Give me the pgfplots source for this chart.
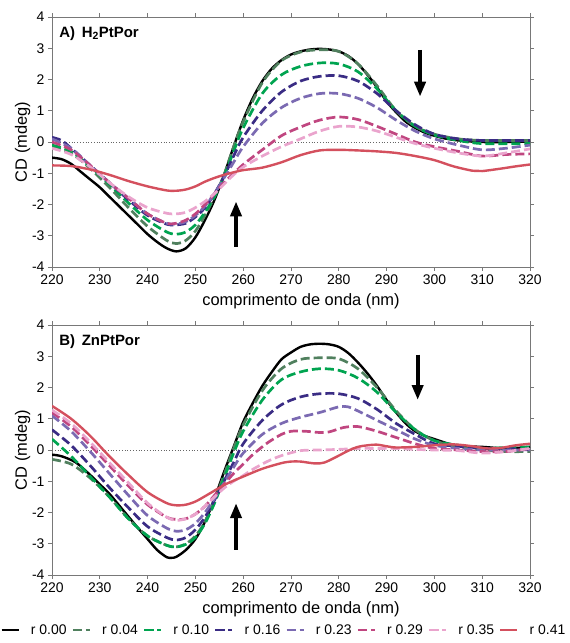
\documentclass[border=0pt]{standalone}
\usepackage{pgfplots}
\pgfplotsset{compat=1.18}
\usepackage{fontspec}
\setmainfont{Liberation Sans}
\usetikzlibrary{arrows.meta}

\definecolor{cGray}{RGB}{80,128,94}
\definecolor{cGreen}{RGB}{0,164,80}
\definecolor{cIndigo}{RGB}{58,44,132}
\definecolor{cPurple}{RGB}{123,106,178}
\definecolor{cMagenta}{RGB}{192,70,128}
\definecolor{cPink}{RGB}{234,164,205}
\definecolor{cRed}{RGB}{212,80,94}
\definecolor{axgray}{RGB}{120,120,120}

\pgfplotsset{
  cdaxis/.style={
    scale only axis, width=478bp, height=250bp,
    xmin=220, xmax=320, ymin=-4, ymax=4,
    xtick={220,230,...,320}, ytick={-4,-3,...,4},
    axis line style={draw=axgray, line width=0.9bp},
    tick style={draw=axgray, line width=0.9bp},
    major tick length=4bp,
    tick align=outside,
    tick label style={font=\fontsize{14}{16}\selectfont},
    label style={font=\fontsize{16.5}{18}\selectfont},
    /pgf/number format/assume math mode=true,
    xlabel={comprimento de onda (nm)},
    ylabel={CD (mdeg)},
    xlabel style={yshift=-2bp, xshift=10bp},
    ylabel style={yshift=-5bp},
    every axis plot/.append style={line width=2.7bp, smooth},
  },
  dsh/.style={dash pattern=on 9bp off 4bp},
  s00/.style={black, solid, line width=2.4bp},
  s04/.style={cGray, dsh},
  s10/.style={cGreen, dsh},
  s16/.style={cIndigo, dsh},
  s23/.style={cPurple, dsh},
  s29/.style={cMagenta, dsh},
  s35/.style={cPink, dsh},
  s41/.style={cRed, solid, line width=2.4bp},
}

\begin{document}
\begin{tikzpicture}
\path[use as bounding box] (0,0) rectangle (570bp,-643bp);

% ---------------- A) H2PtPor
\begin{axis}[cdaxis, at={(52bp,-17bp)}, anchor=north west]
\draw[black!60, dotted, line width=0.8bp] (axis cs:220,0) -- (axis cs:320,0);
\addplot[s00] coordinates {(220,-0.50)(222,-0.55)(224,-0.7)(226,-0.95)(228,-1.2)(230,-1.45)(232,-1.75)(234,-2.05)(236,-2.35)(238,-2.65)(240,-2.95)(242,-3.2)(244,-3.4)(246,-3.5)(248,-3.4)(250,-3.05)(252,-2.5)(254,-1.85)(256,-1.05)(258,-0.15)(260,0.7)(262,1.4)(264,1.95)(266,2.35)(268,2.62)(270,2.8)(272,2.9)(274,2.96)(276,2.98)(278,2.96)(280,2.9)(282,2.75)(284,2.5)(286,2.15)(288,1.75)(290,1.3)(292,0.95)(294,0.65)(296,0.45)(298,0.3)(300,0.2)(302,0.12)(305,0.05)(310,0.0)(315,0.0)(320,0.02)};
\addplot[s04] coordinates {(220,-0.15)(224,-0.35)(228,-0.85)(232,-1.45)(236,-2.1)(240,-2.7)(244,-3.15)(246,-3.25)(248,-3.15)(250,-2.85)(252,-2.35)(254,-1.75)(256,-1.05)(258,-0.15)(260,0.65)(264,1.9)(268,2.6)(272,2.88)(276,2.95)(280,2.9)(284,2.5)(288,1.8)(292,1.0)(296,0.5)(300,0.25)(305,0.1)(310,0.05)(320,0.05)};
\addplot[s10] coordinates {(220,-0.1)(224,-0.3)(228,-0.8)(232,-1.35)(236,-1.95)(240,-2.5)(244,-2.88)(246,-2.95)(248,-2.88)(250,-2.65)(252,-2.25)(254,-1.75)(256,-1.1)(258,-0.3)(260,0.45)(264,1.55)(268,2.15)(272,2.42)(276,2.53)(280,2.5)(284,2.25)(288,1.7)(292,1.0)(296,0.5)(300,0.22)(305,0.05)(310,-0.05)(320,-0.05)};
\addplot[s16] coordinates {(220,0.15)(222,0.05)(224,-0.2)(228,-0.75)(232,-1.3)(236,-1.85)(240,-2.35)(244,-2.63)(246,-2.65)(248,-2.6)(250,-2.4)(252,-2.1)(254,-1.65)(256,-1.1)(258,-0.45)(260,0.15)(264,1.0)(268,1.6)(272,1.95)(276,2.1)(280,2.12)(284,1.95)(288,1.55)(292,1.0)(296,0.55)(300,0.25)(305,0.1)(310,0.05)(320,0.05)};
\addplot[s23] coordinates {(220,0.1)(224,-0.2)(228,-0.75)(232,-1.3)(236,-1.8)(240,-2.3)(244,-2.6)(246,-2.62)(248,-2.55)(250,-2.35)(252,-2.05)(254,-1.65)(256,-1.15)(258,-0.65)(260,-0.15)(264,0.6)(268,1.1)(272,1.4)(276,1.55)(280,1.55)(284,1.4)(288,1.1)(292,0.7)(296,0.35)(300,0.1)(305,-0.1)(310,-0.25)(315,-0.2)(320,-0.1)};
\addplot[s29] coordinates {(220,0.0)(224,-0.25)(228,-0.75)(232,-1.3)(236,-1.8)(240,-2.3)(244,-2.6)(246,-2.6)(248,-2.5)(250,-2.3)(252,-2.0)(254,-1.65)(256,-1.3)(258,-1.0)(260,-0.72)(262,-0.48)(264,-0.25)(268,0.2)(272,0.48)(276,0.7)(280,0.8)(284,0.72)(288,0.5)(292,0.25)(296,0.0)(300,-0.15)(305,-0.3)(310,-0.45)(315,-0.4)(320,-0.38)};
\addplot[s35] coordinates {(220,-0.2)(224,-0.4)(228,-0.8)(232,-1.3)(236,-1.75)(240,-2.1)(244,-2.28)(246,-2.3)(248,-2.25)(250,-2.1)(252,-1.9)(254,-1.65)(256,-1.35)(258,-1.05)(260,-0.8)(264,-0.45)(268,-0.15)(272,0.1)(276,0.35)(280,0.5)(284,0.48)(288,0.35)(292,0.15)(296,-0.05)(300,-0.2)(305,-0.35)(310,-0.45)(315,-0.35)(320,-0.22)};
\addplot[s41] coordinates {(220,-0.75)(224,-0.77)(228,-0.88)(232,-1.05)(236,-1.25)(240,-1.42)(244,-1.55)(246,-1.56)(248,-1.52)(250,-1.42)(252,-1.27)(254,-1.15)(256,-1.05)(258,-0.97)(260,-0.9)(264,-0.82)(268,-0.65)(272,-0.42)(276,-0.27)(280,-0.25)(284,-0.27)(288,-0.3)(292,-0.35)(296,-0.45)(300,-0.58)(304,-0.78)(308,-0.92)(310,-0.93)(314,-0.85)(317,-0.78)(320,-0.72)};
\draw[black, line width=4bp, -{Triangle[width=11bp,length=15bp]}] (axis cs:297,2.95) -- (axis cs:297,1.45);
\draw[black, line width=4bp, -{Triangle[width=11bp,length=15bp]}] (axis cs:258.5,-3.35) -- (axis cs:258.5,-1.9);
\node[anchor=base west, font=\fontsize{15}{17}\selectfont\bfseries] at (rel axis cs:0.008,0.92) {A)\hspace{0.45em}H\textsubscript{2}PtPor};
\end{axis}

% ---------------- B) ZnPtPor
\begin{axis}[cdaxis, at={(52bp,-325bp)}, anchor=north west,
  legend columns=8,
  legend style={at={(0.485,-0.22)}, anchor=center, draw=none, fill=none,
    font=\fontsize{14}{16}\selectfont,
    /tikz/every odd column/.append style={column sep=9bp},
    /tikz/every even column/.append style={column sep=3bp}},
  legend image post style={line width=2.6bp},
]
\draw[black!60, dotted, line width=0.8bp] (axis cs:220,0) -- (axis cs:320,0);
\addplot[s00] coordinates {(220,-0.15)(222,-0.2)(225,-0.4)(228,-0.8)(230,-1.1)(232,-1.4)(235,-1.95)(238,-2.5)(240,-2.85)(242,-3.2)(244,-3.43)(245,-3.45)(246,-3.42)(248,-3.2)(250,-2.85)(252,-2.3)(254,-1.55)(256,-0.7)(258,0.1)(260,0.9)(262,1.5)(264,2.05)(266,2.5)(268,2.9)(270,3.12)(272,3.3)(274,3.38)(276,3.4)(278,3.38)(280,3.3)(282,3.1)(284,2.8)(286,2.45)(288,2.05)(290,1.6)(292,1.2)(294,0.85)(296,0.6)(298,0.45)(300,0.35)(303,0.2)(306,0.12)(310,0.1)(315,0.05)(320,0.1)};
\addlegendentry{r 0.00}
\addplot[s04] coordinates {(220,-0.3)(224,-0.45)(228,-0.9)(232,-1.5)(236,-2.2)(240,-2.75)(244,-3.05)(246,-3.1)(248,-3.0)(250,-2.75)(252,-2.3)(254,-1.6)(256,-0.8)(258,0.05)(260,0.8)(264,1.9)(268,2.6)(272,2.9)(276,2.95)(280,2.92)(284,2.6)(288,2.0)(292,1.25)(296,0.65)(300,0.3)(305,0.1)(310,0.0)(315,-0.05)(320,-0.05)};
\addlegendentry{r 0.04}
\addplot[s10] coordinates {(220,0.35)(224,-0.2)(228,-0.85)(232,-1.5)(236,-2.2)(240,-2.75)(244,-3.05)(246,-3.1)(248,-3.02)(250,-2.8)(252,-2.35)(254,-1.7)(256,-0.9)(258,-0.1)(260,0.6)(264,1.6)(268,2.25)(272,2.5)(276,2.6)(280,2.55)(284,2.3)(288,1.85)(292,1.2)(296,0.65)(300,0.3)(305,0.15)(310,0.05)(315,0.08)(320,0.1)};
\addlegendentry{r 0.10}
\addplot[s16] coordinates {(220,0.65)(224,0.15)(228,-0.5)(232,-1.2)(236,-1.85)(240,-2.45)(244,-2.8)(246,-2.88)(248,-2.8)(250,-2.55)(252,-2.15)(254,-1.6)(256,-1.0)(258,-0.4)(260,0.2)(264,0.95)(268,1.45)(272,1.7)(276,1.8)(280,1.8)(284,1.65)(288,1.3)(292,0.85)(296,0.5)(300,0.2)(305,0.12)(310,0.05)(315,0.05)(320,0.0)};
\addlegendentry{r 0.16}
\addplot[s23] coordinates {(220,1.1)(224,0.6)(228,-0.05)(232,-0.75)(236,-1.45)(240,-2.1)(244,-2.5)(246,-2.6)(248,-2.55)(250,-2.35)(252,-2.0)(254,-1.55)(256,-1.05)(258,-0.55)(260,-0.1)(264,0.5)(268,0.85)(272,1.05)(276,1.2)(280,1.38)(282,1.38)(284,1.25)(288,0.95)(292,0.65)(296,0.35)(300,0.15)(305,0.05)(310,0.0)(315,0.0)(320,0.0)};
\addlegendentry{r 0.23}
\addplot[s29] coordinates {(220,1.2)(224,0.75)(228,0.15)(232,-0.5)(236,-1.15)(240,-1.75)(244,-2.15)(246,-2.22)(248,-2.2)(250,-2.05)(252,-1.8)(254,-1.45)(256,-1.1)(258,-0.75)(260,-0.45)(262,-0.15)(265,0.22)(268,0.5)(270,0.6)(273,0.6)(276,0.56)(278,0.58)(281,0.72)(284,0.75)(288,0.6)(292,0.4)(296,0.2)(300,0.05)(305,0.0)(310,-0.05)(315,-0.05)(320,0.05)};
\addlegendentry{r 0.29}
\addplot[s35] coordinates {(220,1.28)(224,0.85)(228,0.25)(232,-0.4)(236,-1.05)(240,-1.7)(244,-2.15)(246,-2.25)(248,-2.2)(250,-2.05)(252,-1.8)(254,-1.5)(256,-1.22)(258,-1.0)(260,-0.82)(262,-0.62)(265,-0.37)(268,-0.18)(272,-0.02)(276,0.0)(280,0.02)(284,0.05)(288,0.05)(292,0.05)(296,0.02)(300,0.0)(305,-0.02)(310,-0.1)(315,-0.05)(320,0.05)};
\addlegendentry{r 0.35}
\addplot[s41] coordinates {(220,1.41)(224,1.0)(228,0.45)(232,-0.2)(236,-0.8)(240,-1.35)(244,-1.7)(246,-1.77)(248,-1.75)(250,-1.65)(252,-1.48)(254,-1.3)(256,-1.12)(258,-0.98)(260,-0.85)(264,-0.6)(268,-0.42)(270,-0.37)(272,-0.37)(275,-0.43)(277,-0.4)(280,-0.18)(282,-0.02)(284,0.1)(286,0.15)(288,0.17)(290,0.12)(292,0.08)(296,0.1)(300,0.15)(304,0.18)(308,0.12)(311,0.05)(314,0.07)(317,0.15)(320,0.2)};
\addlegendentry{r 0.41}
\draw[black, line width=4bp, -{Triangle[width=11bp,length=15bp]}] (axis cs:296.5,3.05) -- (axis cs:296.5,1.6);
\draw[black, line width=4bp, -{Triangle[width=11bp,length=15bp]}] (axis cs:258.5,-3.2) -- (axis cs:258.5,-1.7);
\node[anchor=base west, font=\fontsize{15}{17}\selectfont\bfseries] at (rel axis cs:0.008,0.92) {B)\hspace{0.45em}ZnPtPor};
\end{axis}
\end{tikzpicture}
\end{document}
